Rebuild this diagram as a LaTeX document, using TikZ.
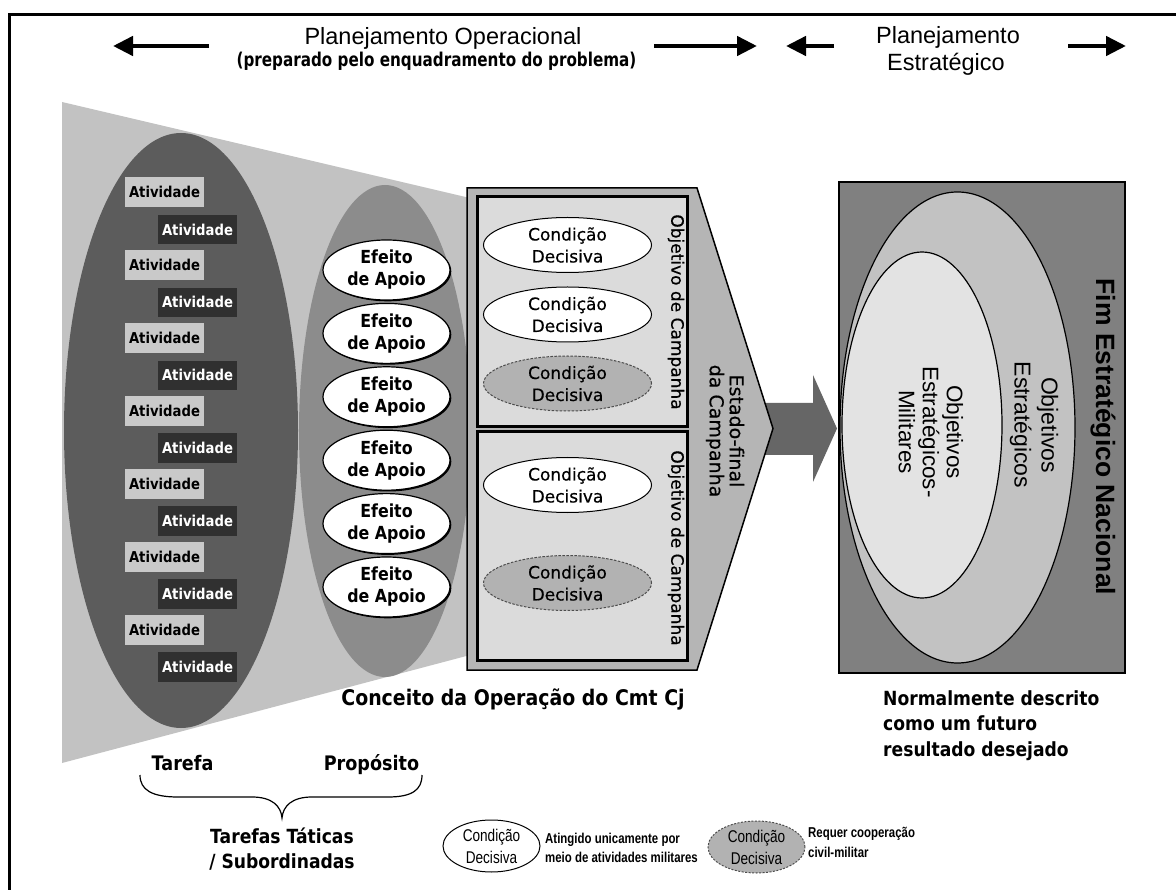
\documentclass[tikz,border=0pt]{standalone}
\usepackage{fontspec}
\setmainfont{Liberation Sans}
\newfontfamily\tahb{DejaVu Sans}[FakeStretch=0.88]
\newfontfamily\tahn{DejaVu Sans}[FakeStretch=0.8]
\newfontfamily\dejav{DejaVu Sans}[FakeBold=0.5]
\newfontfamily\narr{Liberation Sans}[FakeStretch=0.8]
\usetikzlibrary{shapes.geometric,arrows.meta,shadows}

\definecolor{funnel}{gray}{0.76}
\definecolor{actell}{gray}{0.36}
\definecolor{effell}{gray}{0.55}
\definecolor{actL}{gray}{0.79}
\definecolor{actD}{gray}{0.19}
\definecolor{pent}{gray}{0.71}
\definecolor{objfill}{gray}{0.86}
\definecolor{cdgray}{gray}{0.70}
\definecolor{bigarrow}{gray}{0.40}
\definecolor{stratbox}{gray}{0.50}
\definecolor{stratout}{gray}{0.76}
\definecolor{stratin}{gray}{0.89}

\begin{document}
\begin{tikzpicture}[x=1pt,y=-1pt,
  hdrarrow/.style={line width=4.5pt,-{Triangle[length=20pt,width=19pt]}},
  hdr/.style={font=\fontsize{23.5}{28}\selectfont, inner sep=0, anchor=base},
  boldlbl/.style={font=\tahb\bfseries\fontsize{19.5}{25}\selectfont, inner sep=0, anchor=base},
  actbase/.style={minimum width=79pt, minimum height=29.5pt, inner sep=0,
    font=\tahb\bfseries\fontsize{15}{18}\selectfont},
  actlight/.style={actbase, fill=actL, text=black},
  actdark/.style={actbase, fill=actD, text=white},
  effect/.style={ellipse, draw, line width=1.2pt, fill=white, minimum width=127pt,
    minimum height=60pt, inner sep=0, align=center,
    drop shadow={shadow xshift=1.3pt, shadow yshift=-1.3pt, fill=black, opacity=1},
    font=\tahb\bfseries\fontsize{18}{22}\selectfont},
  decisive/.style={ellipse, draw, line width=1pt, fill=white, minimum width=168pt,
    minimum height=55pt, inner sep=0, align=center,
    font=\dejav\fontsize{17}{22}\selectfont},
  civil/.style={decisive, fill=cdgray, draw=black!70, dash pattern=on 2.5pt off 1.5pt},
  legend/.style={ellipse, draw, line width=1pt, fill=white, minimum width=97pt,
    minimum height=52pt, inner sep=0, align=center,
    font=\narr\fontsize{17}{22}\selectfont},
  legendcivil/.style={legend, fill=cdgray, draw=black!70, dash pattern=on 2pt off 1.5pt},
  legendtxt/.style={font=\narr\bfseries\fontsize{14.3}{18}\selectfont, inner sep=0, anchor=base west},
  vlabel/.style={rotate=-90, inner sep=0, align=center}
]
\useasboundingbox (0,0) rectangle (1176,890);
\clip (0,0) rectangle (1176,890);
\fill[white] (0,0) rectangle (1176,890);

% outer frame
\draw[line width=3pt] (9,900) -- (9,15) -- (1190,15);

% header
\node[hdr] (opTitle) at (443,45) {Planejamento Operacional};
\node[font=\tahn\bfseries\fontsize{19}{22}\selectfont, inner sep=0, anchor=base]
  (opSub) at (436.5,67) {(preparado pelo enquadramento do problema)};
\node[hdr] (stTitle) at (948,44) {Planejamento};
\node[hdr] (stSub) at (946,71) {Estratégico};
\coordinate (a1t) at (209,46); \coordinate (a1h) at (113,46);
\coordinate (a2t) at (654,46); \coordinate (a2h) at (757,46);
\coordinate (a3t) at (834,46); \coordinate (a3h) at (786,46);
\coordinate (a4t) at (1068,46); \coordinate (a4h) at (1126,46);
\draw[hdrarrow] (a1t) -- (a1h);
\draw[hdrarrow] (a2t) -- (a2h);
\draw[hdrarrow] (a3t) -- (a3h);
\draw[hdrarrow] (a4t) -- (a4h);

% funnel and the two layers of tasks / effects
\fill[funnel] (62,102) -- (472,198.5) -- (472,654.5) -- (62,763) -- cycle;
\fill[actell] (181,430.5) ellipse [x radius=117pt, y radius=297.5pt];
\fill[effell] (385,431) ellipse [x radius=86pt, y radius=246pt];

\foreach \i in {0,...,6} {
  \node[actlight] (actL\i) at (164.5,{192+73*\i}) {Atividade};
  \node[actdark]  (actD\i) at (197.5,{229.5+72.9*\i}) {Atividade};
}
\foreach \i in {0,...,5} {
  \node[effect] (eff\i) at (386.5,{270+63.4*\i}) {Efeito\\de Apoio};
}

% arrow towards the strategic end state
\fill[bigarrow] (760,403) -- (813,403) -- (813,375) -- (837,428.5) -- (813,482)
  -- (813,455) -- (760,455) -- cycle;

% campaign end state
\draw[line width=1.5pt, fill=pent] (467,188) -- (697,188) -- (773,428.5)
  -- (697,670) -- (467,670) -- cycle;
\draw[line width=3pt, fill=objfill] (477,197) rectangle (687,427);
\draw[line width=3pt, fill=objfill] (477,432) rectangle (687,660);

\node[decisive] (cd1) at (567.5,245) {Condição\\Decisiva};
\node[decisive] (cd2) at (567.5,314.5) {Condição\\Decisiva};
\node[civil]    (cd3) at (567.5,383.5) {Condição\\Decisiva};
\node[decisive] (cd4) at (567.5,485) {Condição\\Decisiva};
\node[civil]    (cd5) at (567.5,583) {Condição\\Decisiva};

\node[vlabel, font=\dejav\fontsize{17}{20}\selectfont] (obj1) at (676,312) {Objetivo de Campanha};
\node[vlabel, font=\dejav\fontsize{17}{20}\selectfont] (obj2) at (676,548) {Objetivo de Campanha};
\node[vlabel, font=\dejav\fontsize{19}{20}\selectfont] (endst) at (725,431) {Estado-final\\da Campanha};

% strategic end state
\draw[line width=1.2pt, fill=stratbox] (839,182) rectangle (1125,673);
\draw[line width=1.2pt, fill=stratout] (957.5,427.5) ellipse [x radius=117.5pt, y radius=235.5pt];
\draw[line width=1.2pt, fill=stratin] (922,425) ellipse [x radius=80pt, y radius=173pt];
\node[vlabel, font=\bfseries\fontsize{26.5}{30}\selectfont] (fim) at (1103,437) {Fim Estratégico Nacional};
\node[vlabel, font=\fontsize{23}{27}\selectfont] (objE) at (1034,425) {Objetivos\\Estratégicos};
\node[vlabel, font=\fontsize{22.5}{24}\selectfont] (objEM) at (931,432) {Objetivos\\Estratégicos-\\Militares};

% captions
\node[boldlbl, font=\tahb\bfseries\fontsize{21.5}{25}\selectfont] (conc) at (513,705) {Conceito da Operação do Cmt Cj};
\node[boldlbl, anchor=base west] (norm1) at (883,705) {Normalmente descrito};
\node[boldlbl, anchor=base west] (norm2) at (883,730.5) {como um futuro};
\node[boldlbl, anchor=base west] (norm3) at (883,756) {resultado desejado};

\node[boldlbl, font=\tahb\bfseries\fontsize{20}{25}\selectfont] (tarefa) at (182.5,770) {Tarefa};
\node[boldlbl, font=\tahb\bfseries\fontsize{20}{25}\selectfont] (prop) at (371.5,770) {Propósito};
\coordinate (brL) at (140,775);
\coordinate (brR) at (422,775);
\coordinate (brTip) at (282,818);
\draw[line width=1.2pt] (brL) .. controls (140,790) and (152,797) .. (178,797)
  -- (252,797) .. controls (272,797) and (281,806) .. (brTip)
  .. controls (283,806) and (292,797) .. (312,797)
  -- (388,797) .. controls (412,797) and (422,790) .. (brR);
\node[boldlbl] (tt1) at (282,843) {Tarefas Táticas};
\node[boldlbl] (tt2) at (282,868) {/ Subordinadas};

% legend
\node[legend] (lg1) at (491.5,846) {Condição\\Decisiva};
\node[legendtxt] (lg1a) at (545,843) {Atingido unicamente por};
\node[legendtxt] (lg1b) at (545,862) {meio de atividades militares};
\node[legendcivil] (lg2) at (756.5,847) {Condição\\Decisiva};
\node[legendtxt] (lg2a) at (808,837) {Requer cooperação};
\node[legendtxt] (lg2b) at (808,857) {civil-militar};
\end{tikzpicture}
\end{document}
